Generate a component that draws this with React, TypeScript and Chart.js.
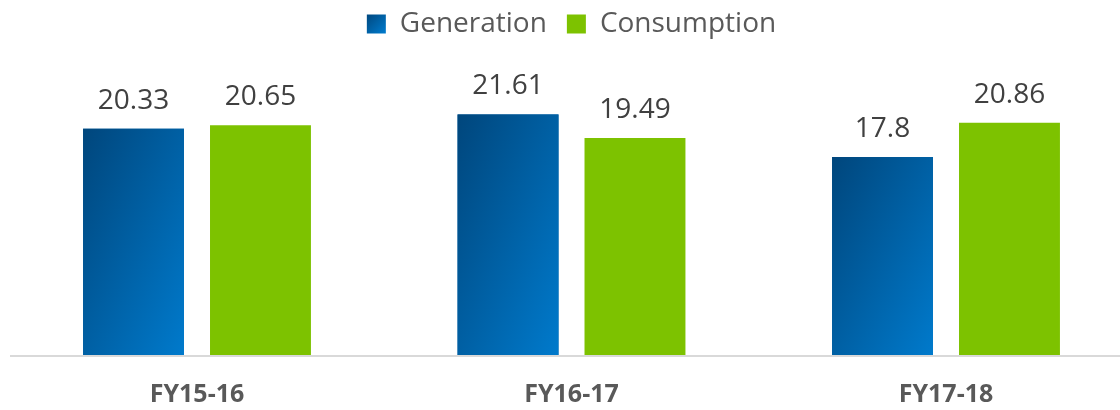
import React, { useEffect, useRef } from "react";
import { Chart, registerables } from "chart.js";

Chart.register(...registerables);

const categories = ["FY15-16", "FY16-17", "FY17-18"];
const generation = [20.33, 21.61, 17.8];
const consumption = [20.65, 19.49, 20.86];
const seriesNames = ["Generation", "Consumption"];

const FONT = "'Open Sans', 'Noto Sans', sans-serif";
const GREEN = "#7DC200";
const BLUE_DARK = "#00467c";
const BLUE_LIGHT = "#007acc";

function diagGradient(ctx: CanvasRenderingContext2D, left: number, top: number, w: number, h: number) {
  // iso-lines parallel to the top-right/bottom-left diagonal
  const s = (2 * w * h) / (h * h + w * w);
  const g = ctx.createLinearGradient(left, top, left + s * h, top + s * w);
  g.addColorStop(0, BLUE_DARK);
  g.addColorStop(1, BLUE_LIGHT);
  return g;
}

const barOverlay = {
  id: "barOverlay",
  afterDatasetsDraw(chart: any) {
    const ctx = chart.ctx;
    ctx.save();
    // gradient on Generation bars
    const meta0 = chart.getDatasetMeta(0);
    meta0.data.forEach((bar: any) => {
      const { x, y, base, width } = bar.getProps(["x", "y", "base", "width"], true);
      const left = x - width / 2;
      ctx.fillStyle = diagGradient(ctx, left, y, width, base - y);
      ctx.fillRect(left, y, width, base - y);
    });
    // value labels
    ctx.fillStyle = "#404040";
    ctx.font = `28px ${FONT}`;
    ctx.textAlign = "center";
    ctx.textBaseline = "middle";
    chart.data.datasets.forEach((ds: any, di: number) => {
      const meta = chart.getDatasetMeta(di);
      meta.data.forEach((bar: any, i: number) => {
        const { x, y } = bar.getProps(["x", "y"], true);
        ctx.fillText(String(ds.data[i]), x, y - 28);
      });
    });
    // axis line
    const area = chart.chartArea;
    ctx.strokeStyle = "#d9d9d9";
    ctx.lineWidth = 2;
    ctx.beginPath();
    ctx.moveTo(10, area.bottom);
    ctx.lineTo(chart.width, area.bottom);
    ctx.stroke();
    ctx.restore();
  },
};

export default function App() {
  const ref = useRef<HTMLCanvasElement | null>(null);
  useEffect(() => {
    if (!ref.current) return;
    const ctx2 = ref.current.getContext("2d")!;
    const legendGrad = diagGradient(ctx2, 367, 13, 19, 19);
    const chart = new Chart(ref.current, {
      type: "bar",
      data: {
        labels: categories,
        datasets: [
          { label: seriesNames[0], data: generation, backgroundColor: "#005fa3", borderWidth: 0 },
          { label: seriesNames[1], data: consumption, backgroundColor: GREEN, borderWidth: 0 },
        ],
      },
      plugins: [barOverlay],
      options: {
        animation: false,
        responsive: false,
        maintainAspectRatio: false,
        layout: { padding: { left: 197, right: 174, top: -10, bottom: -24 } },
        datasets: {
          bar: { categoryPercentage: 0.678, barPercentage: 0.795, clip: false as any },
        },
        plugins: {
          tooltip: { enabled: false },
          legend: {
            position: "top",
            labels: {
              boxWidth: 19,
              boxHeight: 19,
              padding: 20,
              color: "#595959",
              font: { family: FONT, size: 28 },
              generateLabels: (chart: any) =>
                chart.data.datasets.map((ds: any, i: number) => ({
                  text: ds.label,
                  fillStyle: i === 0 ? legendGrad : GREEN,
                  strokeStyle: "rgba(0,0,0,0)",
                  lineWidth: 0,
                  hidden: false,
                  datasetIndex: i,
                  fontColor: "#595959",
                })),
            },
          },
        },
        scales: {
          x: {
            offset: false,
            grid: { display: false, drawTicks: false },
            border: { display: false },
            ticks: {
              color: "#595959",
              padding: 24,
              font: { family: FONT, size: 25, weight: "bold" },
            },
          },
          y: {
            display: false,
            min: 0,
            max: 27.55,
          },
        },
      },
    });
    return () => chart.destroy();
  }, []);
  return (
    <div style={{ position: "absolute", left: 0, top: 0, width: 1120, height: 410, background: "#fff" }}>
      <canvas ref={ref} width={1120} height={410} style={{ width: 1120, height: 410, display: "block" }} />
    </div>
  );
}
